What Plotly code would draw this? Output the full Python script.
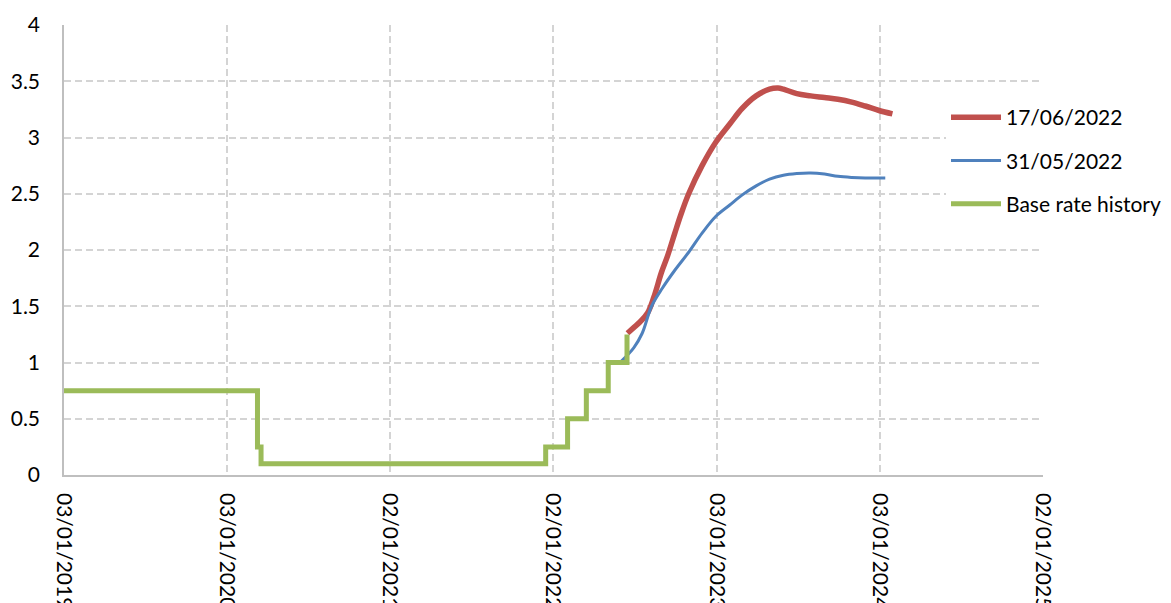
import plotly.graph_objects as go

# Bank Rate history (step changes)
base_dates = ["2019-01-03", "2020-03-11", "2020-03-19", "2021-12-16",
              "2022-02-03", "2022-03-17", "2022-05-05", "2022-06-16"]
base_rate = [0.75, 0.25, 0.10, 0.25, 0.50, 0.75, 1.00, 1.25]

# Market-implied path as of 17/06/2022
jun_dates = ["2022-06-17", "2022-07-01", "2022-07-15", "2022-08-01", "2022-08-15",
             "2022-09-01", "2022-09-15", "2022-10-01", "2022-10-15", "2022-11-01",
             "2022-12-01", "2023-01-01", "2023-02-01", "2023-03-01", "2023-04-01",
             "2023-05-01", "2023-05-20", "2023-06-01", "2023-07-01", "2023-08-01",
             "2023-09-01", "2023-10-01", "2023-11-01", "2023-12-01", "2024-01-01",
             "2024-01-31"]
jun_rate = [1.26, 1.31, 1.36, 1.44, 1.58, 1.80, 1.95, 2.15, 2.32, 2.50,
            2.75, 2.96, 3.12, 3.26, 3.37, 3.43, 3.44, 3.43, 3.39, 3.37,
            3.355, 3.34, 3.315, 3.28, 3.24, 3.21]

# Market-implied path as of 31/05/2022
may_dates = ["2022-06-03", "2022-07-01", "2022-07-20", "2022-08-10", "2022-09-03",
             "2022-10-01", "2022-11-01", "2022-12-01", "2023-01-01", "2023-02-01",
             "2023-03-01", "2023-04-01", "2023-05-01", "2023-06-01", "2023-07-01",
             "2023-08-01", "2023-09-01", "2023-10-01", "2023-11-01", "2023-12-01",
             "2024-01-01", "2024-01-15"]
may_rate = [1.01, 1.13, 1.26, 1.50, 1.66, 1.82, 1.98, 2.15, 2.30, 2.40,
            2.49, 2.57, 2.63, 2.665, 2.68, 2.685, 2.675, 2.655, 2.645, 2.64,
            2.64, 2.64]

tick_dates = ["2019-01-03", "2020-01-03", "2021-01-02", "2022-01-02",
              "2023-01-03", "2024-01-03", "2025-01-02"]
tick_text = ["03/01/2019", "03/01/2020", "02/01/2021", "02/01/2022",
             "03/01/2023", "03/01/2024", "02/01/2025"]
y_ticks = [0, 0.5, 1, 1.5, 2, 2.5, 3, 3.5, 4]

RED = "#c0504d"
BLUE = "#4f81bd"
GREEN = "#9bbb59"
FONT = "Lato"
GRID = "#d4d4d4"

fig = go.Figure()
fig.add_trace(go.Scatter(x=jun_dates, y=jun_rate, mode="lines", name="17/06/2022",
                         line=dict(color=RED, width=5.5, shape="spline", smoothing=1),
                         legendgroup="a"))
fig.add_trace(go.Scatter(x=may_dates, y=may_rate, mode="lines", name="31/05/2022",
                         line=dict(color=BLUE, width=3, shape="spline", smoothing=1),
                         legendgroup="b"))
fig.add_trace(go.Scatter(x=base_dates, y=base_rate, mode="lines", name="Base rate history",
                         line=dict(color=GREEN, width=5, shape="hv"),
                         legendgroup="c"))

fig.update_layout(
    width=1171, height=603,
    margin=dict(l=64, r=128, t=25, b=128, autoexpand=False),
    paper_bgcolor="white", plot_bgcolor="white",
    font=dict(family=FONT, size=21, color="black"),
    showlegend=True,
    legend=dict(
        x=(946 - 64) / 979, xanchor="left",
        y=1 - (97 - 25) / 450, yanchor="top",
        bgcolor="white", borderwidth=0,
        font=dict(family=FONT, size=21, color="black"),
        traceorder="grouped", tracegroupgap=13,
        itemwidth=50,
    ),
    xaxis=dict(
        type="date",
        range=["2019-01-03", "2025-01-02"],
        tickvals=tick_dates, ticktext=tick_text,
        tickangle=90, automargin=False,
        showgrid=True, gridcolor=GRID, gridwidth=1.5, griddash="7px,4px",
        showline=True, linecolor="#bfbfbf", linewidth=1.5,
        ticks="", ticklabelstandoff=12,
        zeroline=False,
    ),
    yaxis=dict(
        range=[0, 4],
        tickvals=y_ticks, automargin=False,
        showgrid=True, gridcolor=GRID, gridwidth=1.5, griddash="7px,4px",
        showline=True, linecolor="#bfbfbf", linewidth=1.5,
        ticks="", ticklabelstandoff=18,
        zeroline=False,
    ),
)

fig.write_html("out.html")
